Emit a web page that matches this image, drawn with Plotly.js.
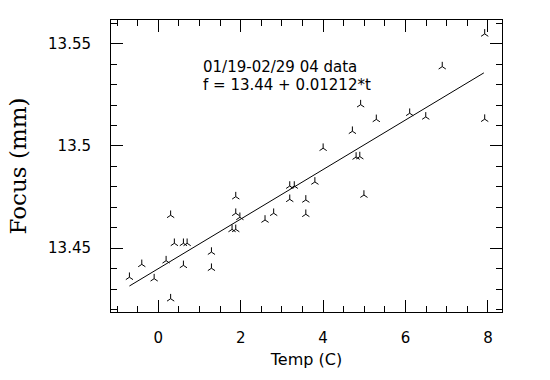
<!DOCTYPE html>
<html>
<head>
<meta charset="utf-8">
<script src="https://cdn.plot.ly/plotly-3.0.1.min.js"></script>
<style>html,body{margin:0;padding:0;background:#fff;}#chart{width:550px;height:380px;}</style>
</head>
<body>
<div id="chart"></div>
<script>
// Measured temperature (C) and focus (mm)
const tempC = [-0.70, -0.40, -0.10, 0.19, 0.30, 0.30, 0.39, 0.61, 0.70, 0.61,
  1.29, 1.29, 1.88, 1.88, 1.98, 1.79, 1.88, 2.59, 2.80, 3.19,
  3.30, 3.19, 3.58, 3.58, 3.80, 4.00, 4.71, 4.80, 4.89, 4.91,
  4.99, 5.29, 6.10, 6.49, 6.89, 7.92, 7.92];
const focusMM = [13.4358, 13.4421, 13.4351, 13.4439, 13.4661, 13.4253, 13.4524, 13.4524, 13.4524, 13.4416,
  13.4481, 13.4402, 13.4752, 13.4671, 13.4651, 13.4592, 13.4592, 13.4638, 13.4671, 13.4804,
  13.4804, 13.4739, 13.4736, 13.4666, 13.4824, 13.4989, 13.5072, 13.4946, 13.4948, 13.5202,
  13.4760, 13.5130, 13.5160, 13.5142, 13.5388, 13.5548, 13.5131];

// Linear fit given on the chart: f = 13.44 + 0.01212*t
const fitIntercept = 13.44;
const fitSlope = 0.01212;
const fitT = [-0.70, 7.90];
const fitF = fitT.map(t => fitIntercept + fitSlope * t);

const annotationLines = ["01/19-02/29 04 data", "f = 13.44 + 0.01212*t"];
const xTickVals = [0, 2, 4, 6, 8];
const yTickVals = [13.45, 13.5, 13.55];

const sans = "DejaVu Sans, sans-serif";

const traces = [
  {
    x: tempC, y: focusMM, type: "scatter", mode: "markers",
    marker: {symbol: "y-up", size: 6, color: "#000", line: {color: "#000", width: 1}},
    hoverinfo: "x+y", showlegend: false
  },
  {
    x: fitT, y: fitF, type: "scatter", mode: "lines",
    line: {color: "#000", width: 1}, showlegend: false
  }
];

const axisCommon = {
  showline: true, linecolor: "#000", linewidth: 1, mirror: "allticks",
  ticks: "inside", tickcolor: "#000", tickwidth: 1, ticklen: 12,
  showgrid: false, zeroline: false,
  tickfont: {family: sans, size: 15, color: "#000"}
};

const layout = {
  width: 550, height: 380,
  margin: {l: 111, r: 48, t: 20, b: 68},
  paper_bgcolor: "#fff", plot_bgcolor: "#fff",
  xaxis: Object.assign({}, axisCommon, {
    range: [-1.147, 8.34], tickmode: "array", tickvals: xTickVals,
    minor: {dtick: 0.5, ticks: "inside", ticklen: 6, tickcolor: "#000", tickwidth: 1, showgrid: false},
    ticklabelstandoff: 12,
    title: {text: "Temp (C)", font: {family: sans, size: 16, color: "#000"}, standoff: 7}
  }),
  yaxis: Object.assign({}, axisCommon, {
    range: [13.4188, 13.5616], tickmode: "array", tickvals: yTickVals,
    minor: {dtick: 0.01, tick0: 13.45, ticks: "inside", ticklen: 6, tickcolor: "#000", tickwidth: 1, showgrid: false},
    ticklabelstandoff: 16,
    title: {text: "Focus (mm)", font: {family: "DejaVu Serif, serif", size: 23, color: "#000"}, standoff: 14}
  }),
  annotations: [
    {text: annotationLines[0], xref: "paper", yref: "paper", x: 0.2294, y: 0.838,
     xanchor: "left", yanchor: "middle", showarrow: false, font: {family: sans, size: 15, color: "#000"}},
    {text: annotationLines[1], xref: "paper", yref: "paper", x: 0.2294, y: 0.776,
     xanchor: "left", yanchor: "middle", showarrow: false, font: {family: sans, size: 15, color: "#000"}}
  ]
};

Plotly.newPlot("chart", traces, layout, {staticPlot: true, displayModeBar: false});
</script>
</body>
</html>
